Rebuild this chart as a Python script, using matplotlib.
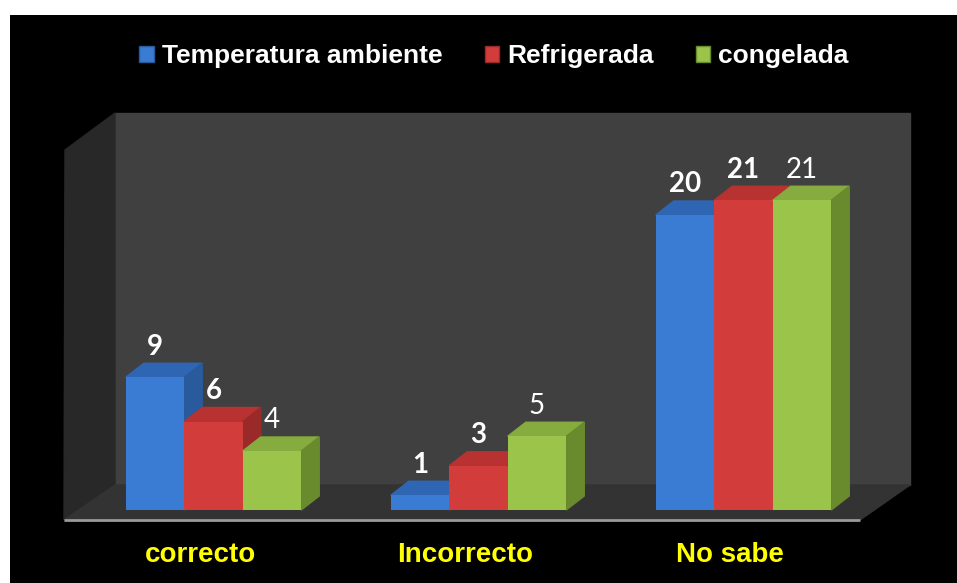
import matplotlib.pyplot as plt
from matplotlib.patches import Polygon, Patch
import numpy as np

# ── data ─────────────────────────────────────────────────────────────
categories = ["correcto", "Incorrecto", "No sabe"]
series = ["Temperatura ambiente", "Refrigerada", "congelada"]
temp_ambiente = [9, 1, 20]
refrigerada = [6, 3, 21]
congelada = [4, 5, 21]

# ── style ────────────────────────────────────────────────────────────
front_cols = ["#3a7bd3", "#d23d3b", "#9bc44b"]
top_cols = ["#2f66b3", "#b73231", "#86ab3e"]
side_cols = ["#285a9c", "#9a2a2a", "#6a8a2e"]
label_bold = [True, True, False]

W, H = 957, 583
PX_X = 265.0      # pixels per category
PX_Y = 14.75      # pixels per unit
X0, Y0 = 213.5, 510.0   # pixel of (0, 0)
bar_w = 58.5 / PX_X
dx = 18 / PX_X
dy = 14 / PX_Y


def px(x, y):
    """pixel (top-left origin) -> data coords"""
    return ((x - X0) / PX_X, (Y0 - y) / PX_Y)


fig = plt.figure(figsize=(W / 100, H / 100), dpi=100, facecolor="white")
ax = fig.add_axes([10 / W, 0, (W - 10) / W, (H - 15) / H])
ax.set_xlim(px(10, 0)[0], px(W, 0)[0])
ax.set_ylim(px(0, H)[1], px(0, 15)[1])
ax.axis("off")
ax.add_patch(plt.Rectangle((0, 0), 1, 1, transform=ax.transAxes,
                           color="black", zorder=0))

# walls and floor
back = [px(115, 113), px(910, 113), px(910, 485), px(115, 485)]
side = [px(65, 150), px(115, 113), px(115, 485), px(64, 520)]
floor = [px(64, 520), px(860, 520), px(910, 485), px(115, 485)]
ax.add_patch(Polygon(back, closed=True, color="#404040", zorder=1))
ax.add_patch(Polygon(side, closed=True, color="#282828", zorder=1))
ax.add_patch(Polygon(floor, closed=True, color="#333333", zorder=1))
ax.plot([px(64, 520)[0], px(860, 520)[0]], [px(64, 520)[1]] * 2,
        color="#9a9a9a", lw=2, zorder=2, solid_capstyle="butt")

# bars, drawn left to right so each front covers the previous side face
values = [temp_ambiente, refrigerada, congelada]
x = np.arange(len(categories))
offsets = [-bar_w, 0, bar_w]
for j in range(3):
    vals = values[j]
    xs = x + offsets[j]
    z = 3 + j
    for xi, v in zip(xs, vals):
        l, r = xi - bar_w / 2, xi + bar_w / 2
        top = [(l, v), (r, v), (r + dx, v + dy), (l + dx, v + dy)]
        sd = [(r, 0), (r + dx, dy), (r + dx, v + dy), (r, v)]
        ax.add_patch(Polygon(top, closed=True, color=top_cols[j], zorder=z))
        ax.add_patch(Polygon(sd, closed=True, color=side_cols[j], zorder=z))
    ax.bar(xs, vals, width=bar_w, color=front_cols[j], zorder=z + 0.5,
           edgecolor="none")
    for xi, v in zip(xs, vals):
        ax.text(xi, v + dy + 0.25, str(v), ha="center", va="bottom",
                color="white", fontsize=20, family="Lato",
                fontweight="bold" if label_bold[j] else "normal", zorder=10)

# category labels
for i, c in enumerate(categories):
    ax.text(i - 0.05, px(0, 555)[1], c, ha="center", va="center",
            color="#ffff00", fontsize=20, fontweight="bold",
            family="Liberation Sans")

# legend
handles = [Patch(facecolor=front_cols[j], edgecolor=side_cols[j], label=series[j])
           for j in range(3)]
leg = fig.legend(handles=handles, loc="center", ncol=3, frameon=False,
                 bbox_to_anchor=(494 / W, 1 - 56 / H),
                 prop={"family": "Liberation Sans", "weight": "bold", "size": 19},
                 labelcolor="white", handlelength=0.55, handleheight=0.55,
                 handletextpad=0.3, columnspacing=1.6)

fig.savefig("out.png", dpi=100, facecolor="white")
